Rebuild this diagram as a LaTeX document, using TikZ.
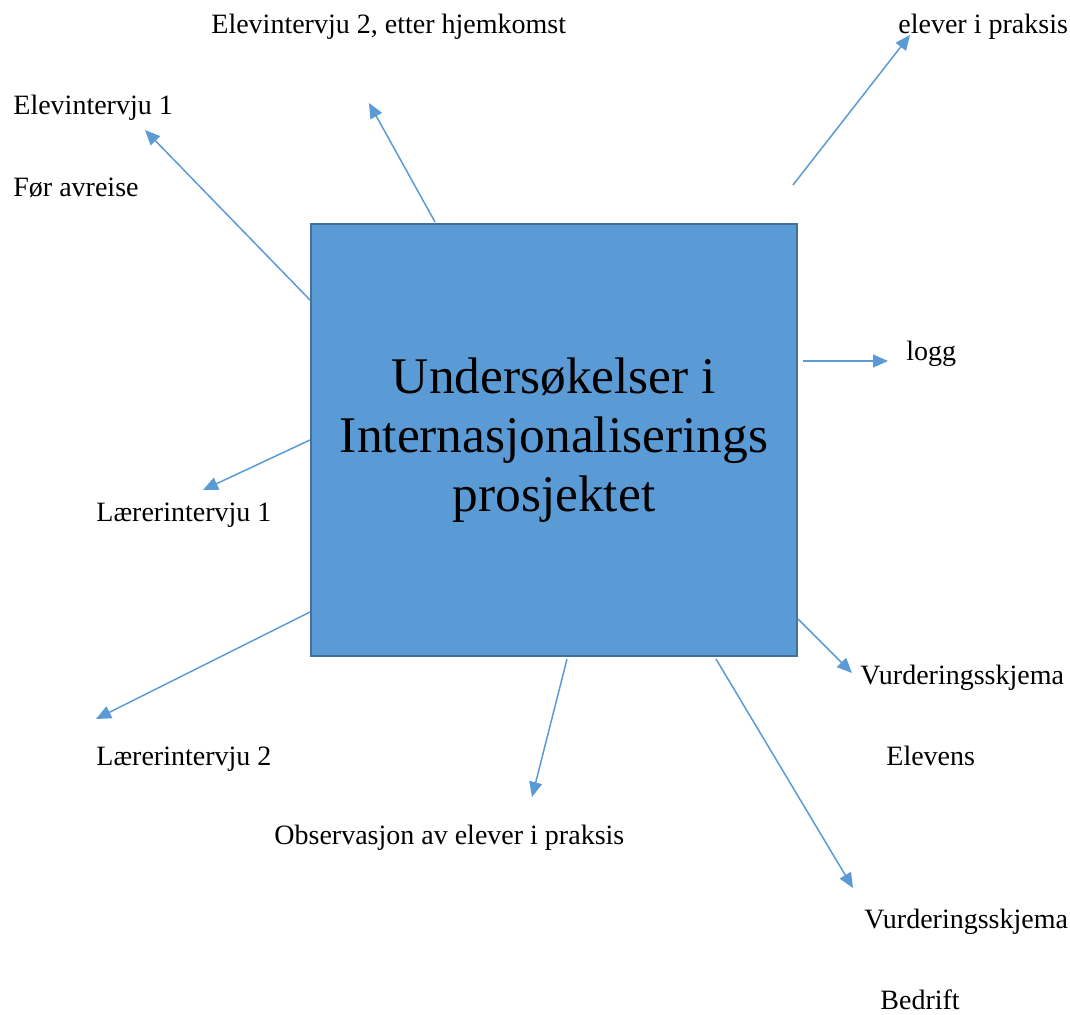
\documentclass[tikz,border=0pt]{standalone}
\usepackage{fontspec}
\setmainfont{Liberation Serif}
\usetikzlibrary{arrows.meta}
\definecolor{boxblue}{HTML}{5B9BD5}
\definecolor{boxedge}{HTML}{41719C}

\begin{document}
\begin{tikzpicture}[x=0.5pt,y=-0.5pt,
  leaf/.style={anchor=base west,inner sep=0pt,font=\fontsize{14}{17}\selectfont},
  link/.style={boxblue,line width=0.75pt,-{Triangle[length=7.5pt,width=6.5pt]}}]
  \useasboundingbox (0,0) rectangle (1070,1014);

  % the box
  \node[draw=boxedge,fill=boxblue,line width=0.6pt,
        minimum width=243pt,minimum height=216pt,inner sep=0pt,
        align=center,font=\fontsize{25.7}{29.5}\selectfont]
        (box) at (554,440) {Undersøkelser i\\Internasjonaliserings\\prosjektet};

  % the labels
  \node[leaf] (eint2) at (211,33) {Elevintervju 2, etter hjemkomst};
  \node[leaf] (eint1) at (13,114) {Elevintervju 1};
  \node[leaf] (avreise) at (13,196) {Før avreise};
  \node[leaf] (praksis) at (898,33) {elever i praksis};
  \node[leaf] (logg) at (906,360) {logg};
  \node[leaf] (lint1) at (96,521) {Lærerintervju 1};
  \node[leaf] (lint2) at (96,765) {Lærerintervju 2};
  \node[leaf] (obs) at (274,844) {Observasjon av elever i praksis};
  \node[leaf] (vurd1) at (860,684) {Vurderingsskjema};
  \node[leaf] (elevens) at (886,765) {Elevens};
  \node[leaf] (vurd2) at (864,928) {Vurderingsskjema};
  \node[leaf] (bedrift) at (880,1009) {Bedrift};

  % arrow ends
  \coordinate (s-eint1) at (310,300);   \coordinate (t-eint1) at (145,130);
  \coordinate (s-eint2) at (435,222);   \coordinate (t-eint2) at (369,103);
  \coordinate (s-praksis) at (793,185); \coordinate (t-praksis) at (910,35);
  \coordinate (s-logg) at (803,361);    \coordinate (t-logg) at (888,361);
  \coordinate (s-lint1) at (310,440);   \coordinate (t-lint1) at (203,490);
  \coordinate (s-lint2) at (310,612);   \coordinate (t-lint2) at (96,719);
  \coordinate (s-obs) at (567,659);     \coordinate (t-obs) at (532,797);
  \coordinate (s-bedrift) at (716,659); \coordinate (t-bedrift) at (853,888);
  \coordinate (s-elevens) at (798,619); \coordinate (t-elevens) at (852,673);

  % the arrows
  \draw[link] (s-eint1) -- (t-eint1);
  \draw[link] (s-eint2) -- (t-eint2);
  \draw[link] (s-praksis) -- (t-praksis);
  \draw[link] (s-logg) -- (t-logg);
  \draw[link] (s-lint1) -- (t-lint1);
  \draw[link] (s-lint2) -- (t-lint2);
  \draw[link] (s-obs) -- (t-obs);
  \draw[link] (s-bedrift) -- (t-bedrift);
  \draw[link] (s-elevens) -- (t-elevens);
\end{tikzpicture}
\end{document}
